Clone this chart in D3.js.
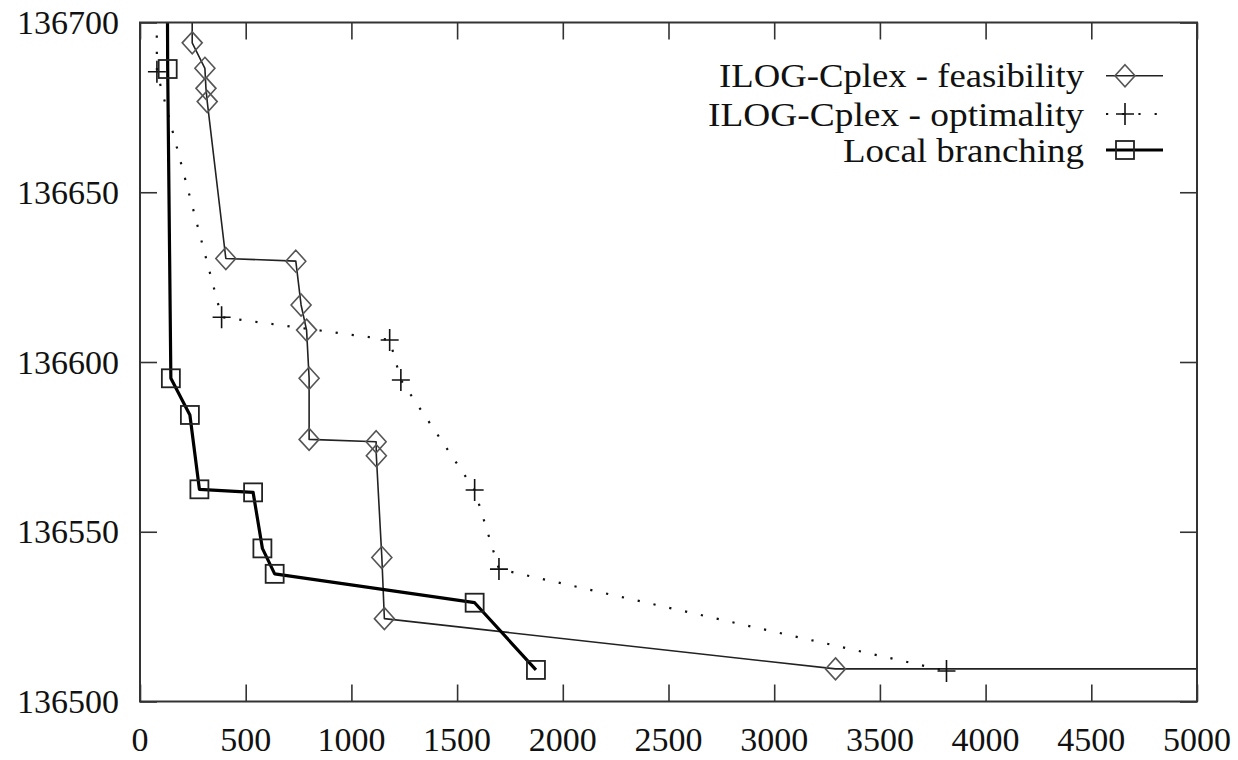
<!DOCTYPE html>
<html>
<head>
<meta charset="utf-8">
<script src="https://cdn.jsdelivr.net/npm/d3@7"></script>
<style>
  body { margin: 0; background: #fff; }
</style>
</head>
<body>
<div id="chart"></div>
<script>
// data (time in seconds, objective value)
const feasTime  = [246, 247, 307, 312, 318, 406, 737, 762, 788, 800, 800, 1117, 1118, 1144, 1156, 3290, 5400];
const feasValue = [136760, 136694, 136686.5, 136680.6, 136676.7, 136630.5, 136629.7, 136616.8, 136609.4,
                   136595.2, 136577.2, 136576.5, 136572.4, 136542.4, 136524.4, 136509.6, 136509.6];

const optTime  = [78, 80, 386, 1181, 1234, 1583, 1698, 3815];
const optValue = [136720, 136685.5, 136613.2, 136606.5, 136594.7, 136562.3, 136539, 136509];

const lbTime  = [126, 131, 146, 236, 281, 535, 579, 637, 1583, 1873];
const lbValue = [136760, 136686.3, 136595.2, 136584.4, 136562.5, 136561.6, 136545.1, 136537.6, 136529.1, 136509.3];

const xTicks = d3.range(0, 5001, 500);
const yTicks = d3.range(136500, 136701, 50);

const seriesNames = ["ILOG-Cplex - feasibility", "ILOG-Cplex - optimality", "Local branching"];

// set the dimensions and margins of the graph
const W = 1238, H = 760;
const margin = {top: 22.5, right: 41, bottom: 58.5, left: 140};
const serif = "'Liberation Serif', 'DejaVu Serif', serif";

const svg = d3.select("#chart")
  .append("svg")
    .attr("width", W)
    .attr("height", H)
    .attr("font-family", serif);

const x = d3.scaleLinear().domain([0, 5000]).range([margin.left, W - margin.right]);
const y = d3.scaleLinear().domain([136500, 136700]).range([H - margin.bottom, margin.top]);

const frameColor = "#333";
const tickLen = 17;

svg.append("clipPath").attr("id", "plotclip")
  .append("rect")
    .attr("x", x(0)).attr("y", y(136700))
    .attr("width", x(5000) - x(0)).attr("height", y(136500) - y(136700));

// ticks, mirrored on all four sides and pointing inwards
const axes = svg.append("g").attr("stroke", frameColor).attr("stroke-width", 1.6);
axes.append("g").attr("transform", `translate(0,${y(136500)})`)
  .call(d3.axisBottom(x).tickValues(xTicks).tickSize(-tickLen).tickFormat(""))
  .call(g => g.select(".domain").remove());
axes.append("g").attr("transform", `translate(0,${y(136700)})`)
  .call(d3.axisTop(x).tickValues(xTicks).tickSize(-tickLen).tickFormat(""))
  .call(g => g.select(".domain").remove());
axes.append("g").attr("transform", `translate(${x(0)},0)`)
  .call(d3.axisLeft(y).tickValues(yTicks).tickSize(-tickLen).tickFormat(""))
  .call(g => g.select(".domain").remove());
axes.append("g").attr("transform", `translate(${x(5000)},0)`)
  .call(d3.axisRight(y).tickValues(yTicks).tickSize(-tickLen).tickFormat(""))
  .call(g => g.select(".domain").remove());
axes.selectAll("line").attr("stroke", frameColor);

// tick labels
svg.append("g")
  .selectAll("text")
  .data(xTicks)
  .join("text")
    .attr("x", d => x(d))
    .attr("y", y(136500) + 38)
    .attr("text-anchor", "middle")
    .attr("dominant-baseline", "central")
    .attr("font-family", serif)
    .attr("font-size", 34)
    .attr("fill", "#111")
    .text(d => d);

svg.append("g")
  .selectAll("text")
  .data(yTicks)
  .join("text")
    .attr("x", x(0) - 21)
    .attr("y", d => y(d))
    .attr("text-anchor", "end")
    .attr("dominant-baseline", "central")
    .attr("font-family", serif)
    .attr("font-size", 34)
    .attr("fill", "#111")
    .text(d => d);

// marker shapes
function diamond(g, cx, cy) {
  g.append("path")
    .attr("d", `M${cx},${cy - 11}L${cx + 10},${cy}L${cx},${cy + 11}L${cx - 10},${cy}Z`)
    .attr("fill", "none").attr("stroke", "#555").attr("stroke-width", 1.6);
}
function plus(g, cx, cy) {
  g.append("path")
    .attr("d", `M${cx - 9},${cy}H${cx + 9}M${cx},${cy - 11}V${cy + 11}`)
    .attr("fill", "none").attr("stroke", "#111").attr("stroke-width", 1.6);
}
function square(g, cx, cy) {
  g.append("rect")
    .attr("x", cx - 9).attr("y", cy - 9).attr("width", 18).attr("height", 18)
    .attr("fill", "none").attr("stroke", "#222").attr("stroke-width", 1.8);
}

const series = [
  {time: feasTime, value: feasValue, stroke: "#222", width: 1.6, dash: null, marker: diamond},
  {time: optTime, value: optValue, stroke: "#111", width: 2.2, dash: "2.2,14", marker: plus},
  {time: lbTime, value: lbValue, stroke: "#000", width: 3.2, dash: null, marker: square}
];

const line = d3.line().x(d => x(d[0])).y(d => y(d[1]));
const plot = svg.append("g").attr("clip-path", "url(#plotclip)");

series.forEach(s => {
  const pts = s.time.map((t, i) => [t, s.value[i]]);
  plot.append("path")
    .datum(pts)
    .attr("d", line)
    .attr("fill", "none")
    .attr("stroke", s.stroke)
    .attr("stroke-width", s.width)
    .attr("stroke-dasharray", s.dash)
    .attr("stroke-linejoin", "round");
  const mg = plot.append("g");
  pts.forEach(p => s.marker(mg, x(p[0]), y(p[1])));
});

// frame
svg.append("rect")
  .attr("x", x(0)).attr("y", y(136700))
  .attr("width", x(5000) - x(0)).attr("height", y(136500) - y(136700))
  .attr("fill", "none").attr("stroke", frameColor).attr("stroke-width", 2);

// legend
const legendRows = [75.7, 114, 150];
const legendWidths = [365, 376, 241];
const legend = svg.append("g");
series.forEach((s, i) => {
  legend.append("text")
    .attr("x", 1084)
    .attr("y", legendRows[i])
    .attr("text-anchor", "end")
    .attr("dominant-baseline", "central")
    .attr("textLength", legendWidths[i])
    .attr("lengthAdjust", "spacingAndGlyphs")
    .attr("font-family", serif)
    .attr("font-size", 34)
    .attr("fill", "#111")
    .text(seriesNames[i]);
  legend.append("line")
    .attr("x1", 1106).attr("x2", 1163)
    .attr("y1", legendRows[i]).attr("y2", legendRows[i])
    .attr("stroke", s.stroke)
    .attr("stroke-width", s.width)
    .attr("stroke-dasharray", s.dash);
  s.marker(legend, 1125, legendRows[i]);
});
</script>
</body>
</html>
